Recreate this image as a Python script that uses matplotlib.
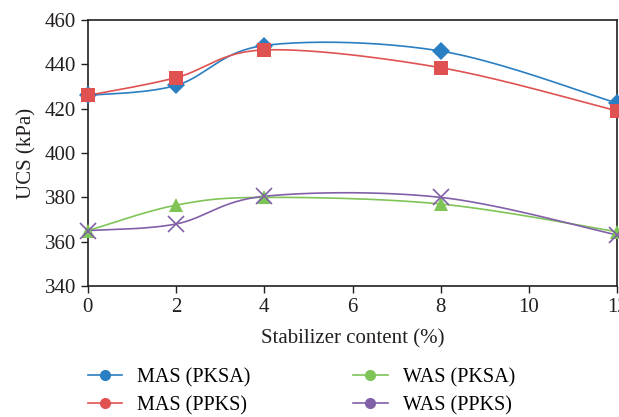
import numpy as np
import matplotlib.pyplot as plt
from matplotlib.lines import Line2D

content = [0, 2, 4, 8, 12]
mas_pksa = [426, 430.5, 448.5, 446, 422.5]
mas_ppks = [426, 434, 446.5, 438.5, 419]
was_pksa = [365, 376.5, 380, 377, 364.5]
was_ppks = [365, 368, 380.5, 380, 363]

labels = ["MAS (PKSA)", "MAS (PPKS)", "WAS (PKSA)", "WAS (PPKS)"]
colors = ["#2a7fc2", "#e05252", "#7fc457", "#8160a8"]
markers = ["D", "s", "^", "x"]
msizes = [9, 10, 10, 11]

plt.rcParams['font.family'] = ['Liberation Serif', 'DejaVu Serif']


def smooth(x, y, sx=12.0, sy=120.0, n=40):
    # Excel-like smoothing: cubic bezier with Catmull-Rom control points
    x = np.asarray(x, float) / sx
    y = np.asarray(y, float) / sy
    pts = np.column_stack([x, y])
    out = []
    for i in range(len(pts) - 1):
        p0 = pts[i - 1] if i > 0 else pts[i]
        p1 = pts[i]
        p2 = pts[i + 1]
        p3 = pts[i + 2] if i + 2 < len(pts) else pts[i + 1]
        c1 = p1 + (p2 - p0) / 6
        c2 = p2 - (p3 - p1) / 6
        t = np.linspace(0, 1, n)[:, None]
        seg = ((1 - t) ** 3) * p1 + 3 * ((1 - t) ** 2) * t * c1 + 3 * (1 - t) * t ** 2 * c2 + t ** 3 * p2
        out.append(seg)
    out = np.vstack(out)
    return out[:, 0] * sx, out[:, 1] * sy


fig = plt.figure(figsize=(6.19, 4.17), dpi=100)
ax = fig.add_axes([0.142, 0.314, 0.855, 0.638])

series = [mas_pksa, mas_ppks, was_pksa, was_ppks]
for vals, c, m, ms in zip(series, colors, markers, msizes):
    sx, sy = smooth(content, vals)
    ax.plot(sx, sy, color=c, lw=1.2)
    mew = 1.2 if m == "x" else 0
    ax.plot(content, vals, linestyle="none", marker=m, color=c, markersize=ms,
            markeredgewidth=mew, clip_on=False, zorder=3)

ax.set_xlim(0, 12)
ax.set_ylim(340, 460)
ax.set_xticks(range(0, 13, 2))
ax.set_yticks(range(340, 461, 20))
ax.tick_params(direction="out", length=5, width=1, labelsize=15, colors="#231f20")
for s in ax.spines.values():
    s.set_linewidth(1.2)
    s.set_color("#231f20")
ax.set_xlabel("Stabilizer content (%)", fontsize=15, color="#231f20", labelpad=9)
ax.set_ylabel("UCS (kPa)", fontsize=15, color="#231f20", labelpad=6)

handles = [Line2D([0], [0], color=c, marker="o", markersize=7, lw=1.2) for c in colors]
fig.legend(handles, labels, loc="upper left", bbox_to_anchor=(0.142, 0.117), ncol=2,
           frameon=False, fontsize=14.5, handlelength=1.7, columnspacing=5.1,
           labelspacing=0.42, handletextpad=0.75, borderaxespad=0, borderpad=0)

fig.savefig("out.png", dpi=100)
